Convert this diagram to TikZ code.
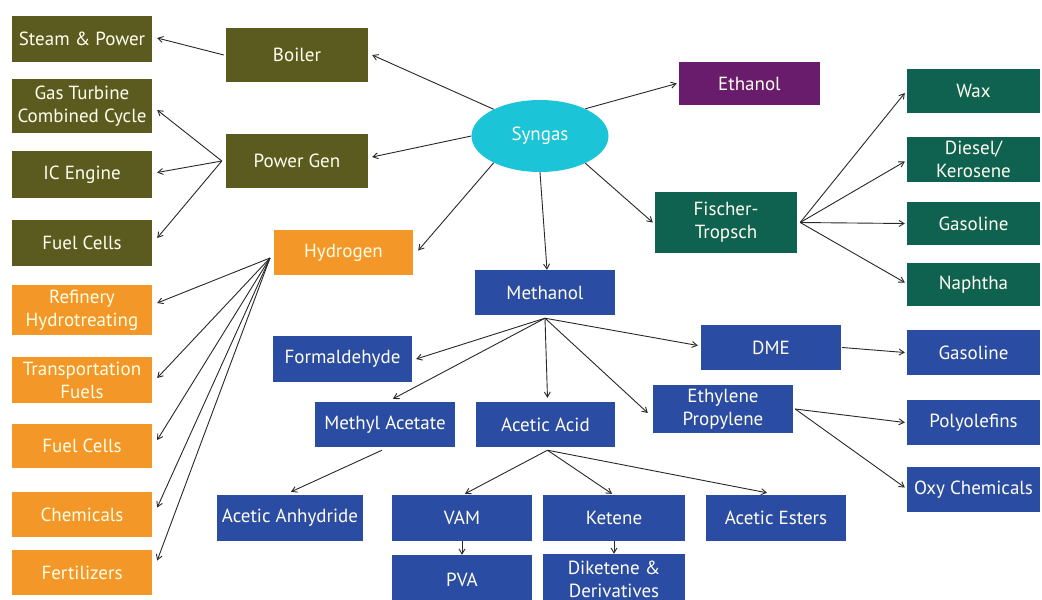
\documentclass[tikz,border=0pt]{standalone}
\usepackage{fontspec}
\setmainfont{PT Sans}
\usetikzlibrary{arrows.meta,shapes.geometric}
\definecolor{olivebox}{RGB}{92,91,31}
\definecolor{orangebox}{RGB}{243,152,40}
\definecolor{bluebox}{RGB}{42,76,163}
\definecolor{greenbox}{RGB}{16,98,80}
\definecolor{purplebox}{RGB}{106,28,108}
\definecolor{syngascol}{RGB}{28,196,216}
\definecolor{linkcol}{RGB}{40,40,40}
\tikzset{
  box/.style={rectangle, inner sep=1pt, text=white!94!yellow, align=center,
    font=\fontsize{19}{23}\selectfont},
  olive/.style={box, fill=olivebox},
  orangeb/.style={box, fill=orangebox, text=white!90!yellow},
  blue/.style={box, fill=bluebox},
  greenb/.style={box, fill=greenbox},
  purple/.style={box, fill=purplebox},
  sz/.style 2 args={minimum width=#1pt, minimum height=#2pt},
  link/.style={draw=linkcol, line width=0.9pt, -{Straight Barb[length=5pt,width=6pt]}},
}
\begin{document}
\begin{tikzpicture}[x=1pt,y=-1pt]
\useasboundingbox (0,0) rectangle (1042,600);
\fill[white] (0,0) rectangle (1042,600);
\clip (0,0) rectangle (1042,600);

% central node
\node[ellipse, fill=syngascol, minimum width=137pt, minimum height=72pt, inner sep=0pt,
      text=white!94!yellow, font=\fontsize{19}{23}\selectfont] (syngas) at (540,136) {Syngas};

% power branch
\node[olive, sz={140}{46}] (steam) at (82,39) {Steam \& Power};
\node[olive, sz={140}{54}] (gtcc) at (82,106) {Gas Turbine\\Combined Cycle};
\node[olive, sz={140}{47}] (ic) at (82,174.5) {IC Engine};
\node[olive, sz={140}{46}] (fc1) at (82,243) {Fuel Cells};
\node[olive, sz={142}{54}] (boiler) at (297,55) {Boiler};
\node[olive, sz={142}{54}] (pgen) at (297,161) {Power Gen};

% hydrogen branch
\node[orangeb, sz={139}{45}] (h2) at (343.5,252.5) {Hydrogen};
\node[orangeb, sz={140}{50}] (refin) at (82,310) {Refinery\\Hydrotreating};
\node[orangeb, sz={140}{46}] (transp) at (82,380) {Transportation\\Fuels};
\node[orangeb, sz={140}{44}] (fc2) at (82,446) {Fuel Cells};
\node[orangeb, sz={140}{45}] (chem) at (82,514.5) {Chemicals};
\node[orangeb, sz={140}{45}] (fert) at (82,572.5) {Fertilizers};

% ethanol and Fischer-Tropsch
\node[purple, sz={141}{43}] (ethanol) at (749.5,83.5) {Ethanol};
\node[greenb, sz={142}{61}] (ft) at (726,222.5) {Fischer-\\Tropsch};
\node[greenb, sz={133}{44}] (wax) at (973.5,91) {Wax};
\node[greenb, sz={133}{45}] (diesel) at (973.5,159.5) {Diesel/\\Kerosene};
\node[greenb, sz={133}{43}] (gasg) at (973.5,223.5) {Gasoline};
\node[greenb, sz={133}{43}] (naph) at (973.5,284.5) {Naphtha};

% methanol branch
\node[blue, sz={140}{45}] (meoh) at (545,292.5) {Methanol};
\node[blue, sz={139}{46}] (form) at (342.5,359) {Formaldehyde};
\node[blue, sz={140}{45}] (meac) at (385,424.5) {Methyl Acetate};
\node[blue, sz={139}{45}] (acac) at (545.5,424.5) {Acetic Acid};
\node[blue, sz={146}{46}] (anh) at (290,518) {Acetic Anhydride};
\node[blue, sz={140}{46}] (vam) at (462,518) {VAM};
\node[blue, sz={142}{46}] (ket) at (614,518) {Ketene};
\node[blue, sz={140}{50}] (pva) at (462,580) {PVA};
\node[blue, sz={142}{50}] (diket) at (614,579) {Diketene \&\\Derivatives};
\node[blue, sz={140}{46}] (est) at (776,518) {Acetic Esters};
\node[blue, sz={140}{45}] (dme) at (771,347.5) {DME};
\node[blue, sz={140}{48}] (ep) at (723,409) {Ethylene\\Propylene};
\node[blue, sz={133}{45}] (gasb) at (973.5,352.5) {Gasoline};
\node[blue, sz={133}{45}] (poly) at (973.5,422.5) {Polyolefins};
\node[blue, sz={133}{45}] (oxy) at (973.5,489.5) {Oxy Chemicals};

% fan-out points
\coordinate (pghub) at ([xshift=-4pt]pgen.west);
\coordinate (h2hub) at (270,258);
\coordinate (fthub) at ([xshift=3pt]ft.east);
\coordinate (mehub) at ([yshift=-3pt]meoh.south);
\coordinate (aahub) at ([xshift=2pt,yshift=-3pt]acac.south);
\coordinate (ephub) at ([xshift=2pt]ep.east);

% syngas links
\draw[link] (syngas.150) -- ([xshift=4pt]boiler.east);
\draw[link] (syngas.180) -- ([xshift=4pt,yshift=4pt]pgen.east);
\draw[link] (syngas.210) -- ([xshift=5pt,yshift=2pt]h2.east);
\draw[link] (syngas.270) -- ([xshift=2pt]meoh.north);
\draw[link] (syngas.329) -- ([xshift=-2pt]ft.west);
\draw[link] (syngas.31) -- ([xshift=-2pt]ethanol.west);

% power links
\draw[link] ([xshift=-2pt]boiler.west) -- ([xshift=5pt,yshift=1pt]steam.east);
\draw[link] (pghub) -- ([xshift=5pt,yshift=-4pt]gtcc.east);
\draw[link] (pghub) -- ([xshift=5pt,yshift=2pt]ic.east);
\draw[link] (pghub) -- ([xshift=5pt,yshift=5pt]fc1.east);

% hydrogen links
\draw[link] (h2hub) -- ([xshift=5pt,yshift=7pt]refin.east);
\draw[link] (h2hub) -- ([xshift=5pt,yshift=2pt]transp.east);
\draw[link] (h2hub) -- ([xshift=5pt,yshift=6pt]fc2.east);
\draw[link] (h2hub) -- ([xshift=5pt,yshift=7pt]chem.east);
\draw[link] (h2hub) -- ([xshift=5pt,yshift=12pt]fert.east);

% Fischer-Tropsch links
\draw[link] (fthub) -- ([xshift=-2pt,yshift=-2pt]wax.west);
\draw[link] (fthub) -- ([xshift=-2pt,yshift=-2pt]diesel.west);
\draw[link] (fthub) -- ([xshift=-2pt]gasg.west);
\draw[link] (fthub) -- ([xshift=-2pt,yshift=2pt]naph.west);

% methanol links
\draw[link] (mehub) -- ([xshift=4pt]form.east);
\draw[link] (mehub) -- ([xshift=8pt,yshift=3pt]meac.north);
\draw[link] (mehub) -- ([xshift=2pt,yshift=4pt]acac.north);
\draw[link] (mehub) -- ([xshift=-5pt,yshift=-4pt]ep.west);
\draw[link] (mehub) -- ([xshift=-3pt,yshift=2pt]dme.west);

% second-level links
\draw[link] ([xshift=-3pt,yshift=-3pt]meac.south) -- ([xshift=1pt,yshift=3pt]anh.north);
\draw[link] (aahub) -- ([xshift=3pt,yshift=1pt]vam.north);
\draw[link] (aahub) -- ([xshift=-2pt,yshift=1pt]ket.north);
\draw[link] (aahub) -- ([xshift=-9pt,yshift=2pt]est.north);
\draw[link] (vam.south) -- (pva.north);
\draw[link] (ket.south) -- (diket.north);
\draw[link] ([xshift=1pt]dme.east) -- ([xshift=-2pt]gasb.west);
\draw[link] (ephub) -- ([xshift=-2pt]poly.west);
\draw[link] (ephub) -- ([xshift=-2pt,yshift=2pt]oxy.west);
\end{tikzpicture}
\end{document}
